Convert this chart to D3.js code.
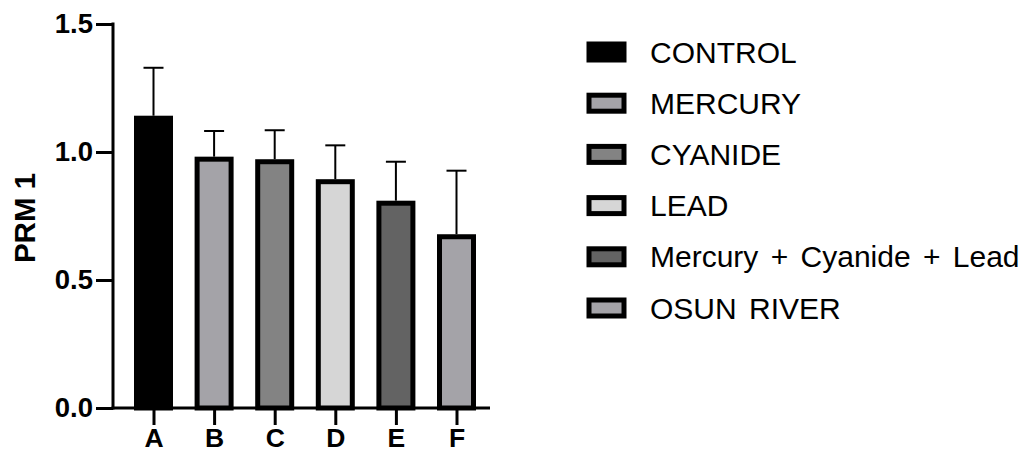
<!DOCTYPE html>
<html>
<head>
<meta charset="utf-8">
<script src="https://cdn.jsdelivr.net/npm/d3@7/dist/d3.min.js"></script>
<style>
  html, body { margin: 0; padding: 0; background: #fff; }
  svg { display: block; font-family: "Liberation Sans", Arial, sans-serif; }
</style>
</head>
<body>
<svg id="chart" width="1029" height="454"></svg>
<script>
// Group labels on the x axis
const categories = ["A", "B", "C", "D", "E", "F"];
// Treatment names shown in the legend (one per group)
const groups = ["CONTROL", "MERCURY", "CYANIDE", "LEAD", "Mercury + Cyanide + Lead", "OSUN RIVER"];
// Mean PRM 1 expression per group
const means = [1.132, 0.972, 0.962, 0.884, 0.800, 0.669];
// Upper error (SD) per group
const errors = [0.197, 0.110, 0.123, 0.142, 0.162, 0.258];
// Fill shade per group
const fills = ["#000000", "#a4a3a8", "#838383", "#d6d6d6", "#636363", "#a4a3a8"];
// Y axis ticks
const yTicks = [0.0, 0.5, 1.0, 1.5];

const svg = d3.select("#chart");

const y = d3.scaleLinear().domain([0, 1.5]).range([408, 24]);
const x = d3.scalePoint().domain(categories).range([153.5, 456.5]);
const axisLeftX = 113;
const axisRightX = 490;
const barW = 34;

// Bars
svg.append("g")
  .selectAll("rect")
  .data(categories)
  .join("rect")
  .attr("x", (d) => x(d) - barW / 2)
  .attr("y", (d, i) => y(means[i]))
  .attr("width", barW)
  .attr("height", (d, i) => y(0) - y(means[i]))
  .attr("fill", (d, i) => fills[i])
  .attr("stroke", "#000")
  .attr("stroke-width", 5);

// Upper error bars
const err = svg.append("g").attr("stroke", "#000").attr("stroke-width", 2);
err.selectAll("line.v")
  .data(categories)
  .join("line")
  .attr("class", "v")
  .attr("x1", (d) => x(d)).attr("x2", (d) => x(d))
  .attr("y1", (d, i) => y(means[i]) - 2.5)
  .attr("y2", (d, i) => y(means[i] + errors[i]));
err.selectAll("line.cap")
  .data(categories)
  .join("line")
  .attr("class", "cap")
  .attr("x1", (d) => x(d) - 10).attr("x2", (d) => x(d) + 10)
  .attr("y1", (d, i) => y(means[i] + errors[i]))
  .attr("y2", (d, i) => y(means[i] + errors[i]));

// Y axis
const yAxis = svg.append("g")
  .attr("transform", `translate(${axisLeftX},0)`)
  .call(d3.axisLeft(y).tickValues(yTicks).tickFormat(d3.format(".1f")).tickSize(17).tickPadding(3));
yAxis.select(".domain").attr("stroke-width", 3).attr("d", `M0,${y(1.5) - 1.5}V${y(0) + 1.5}`);
yAxis.selectAll(".tick line").attr("stroke-width", 3);
yAxis.selectAll(".tick text")
  .attr("font-size", 27.5).attr("font-weight", "bold").attr("fill", "#000")
  .attr("font-family", "Liberation Sans, Arial, sans-serif");

// X axis
const xAxis = svg.append("g")
  .attr("transform", `translate(0,${y(0)})`)
  .call(d3.axisBottom(x).tickSize(17).tickPadding(3));
xAxis.select(".domain").attr("stroke-width", 3).attr("d", `M${axisLeftX - 1.5},0H${axisRightX}`);
xAxis.selectAll(".tick line").attr("stroke-width", 3);
xAxis.selectAll(".tick text")
  .attr("font-size", 26.5).attr("font-weight", "bold").attr("fill", "#000")
  .attr("font-family", "Liberation Sans, Arial, sans-serif");

// Y axis title
svg.append("text")
  .attr("transform", "translate(35,218) rotate(-90)")
  .attr("text-anchor", "middle")
  .attr("font-size", 29.5)
  .attr("font-weight", "bold")
  .text("PRM 1");

// Legend
const legend = svg.append("g");
const rowY = d3.scalePoint().domain(groups).range([52, 308]);
const row = legend.selectAll("g")
  .data(groups)
  .join("g")
  .attr("transform", (d) => `translate(0,${rowY(d)})`);
row.append("rect")
  .attr("x", 589).attr("y", -8).attr("width", 35).attr("height", 16)
  .attr("fill", (d, i) => fills[i])
  .attr("stroke", "#000").attr("stroke-width", 5);
row.append("text")
  .attr("x", 650)
  .attr("dy", "0.35em")
  .attr("font-size", 30)
  .attr("word-spacing", 4)
  .attr("fill", "#000")
  .text((d) => d);
</script>
</body>
</html>
